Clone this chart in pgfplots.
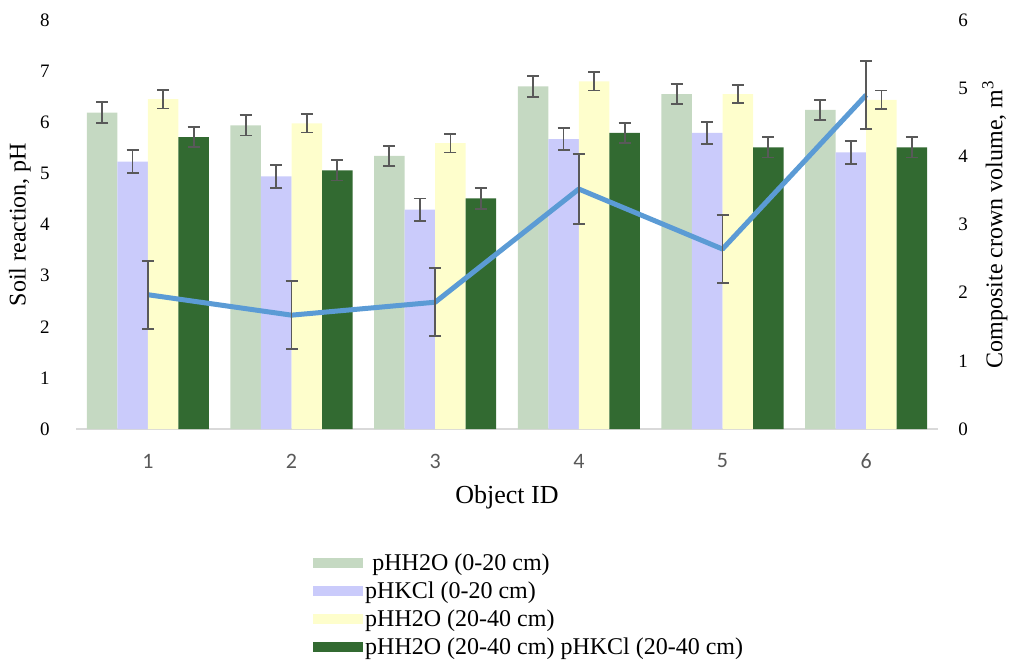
\documentclass[border=0pt]{standalone}
\usepackage{fontspec}
\setmainfont{Liberation Serif}
\newfontfamily\carlito{Carlito}
\usepackage{pgfplots}
\pgfplotsset{compat=1.18}
\usepackage{pgfplotstable}
\definecolor{cA}{HTML}{C5D9C2}
\definecolor{cB}{HTML}{CACBFB}
\definecolor{cC}{HTML}{FEFECC}
\definecolor{cD}{HTML}{326A31}
\definecolor{lineblue}{HTML}{5B9BD5}
\definecolor{errgray}{HTML}{595959}
\pgfplotstableread{
x a ae b be c ce d de v ve
1 6.19 0.20 5.23 0.22 6.45 0.18 5.71 0.20 1.97 0.50
2 5.94 0.20 4.94 0.22 5.98 0.18 5.06 0.20 1.67 0.50
3 5.34 0.20 4.29 0.22 5.59 0.18 4.51 0.20 1.86 0.50
4 6.70 0.20 5.67 0.22 6.80 0.18 5.79 0.20 3.52 0.51
5 6.55 0.20 5.79 0.22 6.55 0.18 5.51 0.20 2.64 0.50
6 6.24 0.20 5.41 0.22 6.44 0.18 5.51 0.20 4.90 0.50
}\data
\pgfplotsset{
  errstyle/.style={error bars/.cd, y dir=both, y explicit,
    error bar style={color=errgray, line width=1.8bp},
    error mark options={rotate=90, color=errgray, line width=1.8bp, mark size=6bp}},
}
\begin{document}
\begin{tikzpicture}
\path[use as bounding box] (0,0) rectangle (1011bp,661bp);
\begin{axis}[
  at={(76bp,232bp)}, anchor=south west, scale only axis,
  width=862bp, height=409bp,
  xmin=0.5, xmax=6.5, ymin=0, ymax=8,
  ybar=0pt, bar width=0.2125,
  legend image code/.code={\fill[#1] (0bp,-5bp) rectangle (50bp,5bp);},
  axis x line*=bottom, axis y line*=left,
  y axis line style={draw=none},
  x axis line style={draw=black!15, line width=1.5bp, -},
  xtick={1,2,3,4,5,6}, ytick={0,1,...,8},
  major tick length=0pt,
  /pgf/number format/assume math mode=true,
  yticklabel style={font=\fontsize{19bp}{22bp}\selectfont, anchor=center, xshift=-31bp},
  xticklabel style={font=\carlito\fontsize{22bp}{26bp}\selectfont, text=errgray, anchor=center, yshift=-32bp},
  xlabel={Object ID},
  xlabel style={font=\fontsize{26bp}{30bp}\selectfont, at={(axis description cs:0.5,-0.166)}, anchor=center},
  ylabel={Soil reaction, pH},
  ylabel style={font=\fontsize{24bp}{28bp}\selectfont, at={(axis description cs:-0.065,0.5)}, anchor=center},
  legend style={at={(axis description cs:0.2715,-0.294)}, anchor=north west, draw=none, fill=none,
    font=\fontsize{24bp}{27bp}\selectfont, row sep=6bp,
    /tikz/every even column/.append style={column sep=0bp}},
  legend cell align=left,
]
\addplot[fill=cA, draw=none, errstyle] table[x=x, y=a, y error=ae] {\data};
\addlegendentry{\hspace{0.3em}pHH2O (0-20 cm)}
\addplot[fill=cB, draw=none, errstyle] table[x=x, y=b, y error=be] {\data};
\addlegendentry{pHKCl (0-20 cm)}
\addplot[fill=cC, draw=none, errstyle] table[x=x, y=c, y error=ce] {\data};
\addlegendentry{pHH2O (20-40 cm)}
\addplot[fill=cD, draw=none, errstyle] table[x=x, y=d, y error=de] {\data};
\addlegendentry{pHH2O (20-40 cm) pHKCl (20-40 cm)}
\end{axis}
\begin{axis}[
  at={(76bp,232bp)}, anchor=south west, scale only axis,
  width=862bp, height=409bp,
  xmin=0.5, xmax=6.5, ymin=0, ymax=6,
  axis x line=none, axis y line*=right,
  y axis line style={draw=none},
  ytick={0,1,...,6}, major tick length=0pt,
  /pgf/number format/assume math mode=true,
  yticklabel style={font=\fontsize{19bp}{22bp}\selectfont, anchor=center, xshift=25bp},
  ylabel={Composite crown volume, m\textsuperscript{3}},
  ylabel style={font=\fontsize{24bp}{28bp}\selectfont, at={(axis description cs:1.066,0.5)}, anchor=center},
]
\addplot[color=lineblue, line width=5bp, line join=round, mark=none, errstyle] table[x=x, y=v, y error=ve] {\data};
\end{axis}
\end{tikzpicture}
\end{document}
